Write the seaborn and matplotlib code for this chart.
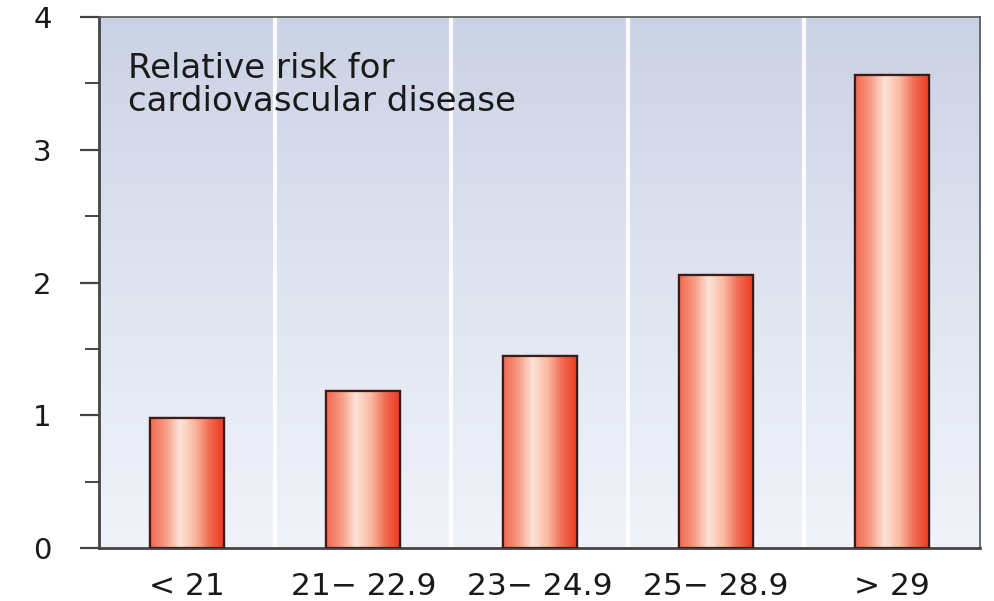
import numpy as np
import pandas as pd
import seaborn as sns
import matplotlib.pyplot as plt
from matplotlib.colors import LinearSegmentedColormap

bmi_groups = ["< 21", "21\u2212 22.9", "23\u2212 24.9", "25\u2212 28.9", "> 29"]
relative_risk = [0.98, 1.18, 1.45, 2.06, 3.56]
y_ticks = [0, 1, 2, 3, 4]

df = pd.DataFrame({"bmi": bmi_groups, "risk": relative_risk})

sns.set_style("white")
plt.rcParams["font.family"] = ["DejaVu Sans"]

fig = plt.figure(figsize=(9.95, 6.01), dpi=100)
ax = fig.add_axes([0.0995, 0.0882, 0.8855, 0.8835])

sns.barplot(data=df, x="bmi", y="risk", width=0.42, color="#ef5a3e",
            edgecolor="#3b1c1a", linewidth=1.6, ax=ax, zorder=3)

ax.set_xlim(-0.5, 4.5)
ax.set_ylim(0, 4)

# background: soft vertical gradient, white separators between groups
bg = LinearSegmentedColormap.from_list("bg", ["#f0f3f9", "#dfe4f0", "#cbd2e5"])
grad = np.linspace(0, 1, 256).reshape(-1, 1)
ax.imshow(grad, cmap=bg, aspect="auto", origin="lower",
          extent=(-0.5, 4.5, 0, 4), zorder=0)
for i in range(len(bmi_groups) - 1):
    ax.axvline(i + 0.5, color="white", lw=3, alpha=0.9, zorder=1)

# shiny bar fill
shine = LinearSegmentedColormap.from_list(
    "shine", ["#f26850", "#f79a82", "#fde3d8", "#f9b8a0", "#f2684e", "#eb3a22"])
hgrad = np.linspace(0, 1, 256).reshape(1, -1)
for p in ax.patches:
    x0, y0 = p.get_x(), p.get_y()
    w, h = p.get_width(), p.get_height()
    im = ax.imshow(hgrad, cmap=shine, aspect="auto",
                   extent=(x0, x0 + w, y0, y0 + h), zorder=3.5)
    im.set_clip_path(p)
    ax.add_patch(plt.Rectangle((x0, y0), w, h, fill=False,
                               edgecolor="#3b1c1a", lw=1.6, zorder=4))

ax.set_xlabel("")
ax.set_ylabel("")
ax.set_yticks(y_ticks)
ax.set_yticks([0.5, 1.5, 2.5, 3.5], minor=True)
ax.tick_params(axis="y", which="major", length=14, width=1.6, color="#444444",
               pad=20, labelsize=21, labelcolor="#1a1a1a", left=True)
ax.tick_params(axis="y", which="minor", length=10, width=1.4, color="#444444", left=True)
ax.tick_params(axis="x", length=0, pad=17, labelsize=22.5, labelcolor="#1a1a1a")

for s in ["left", "bottom"]:
    ax.spines[s].set_color("#444444")
    ax.spines[s].set_linewidth(2)
for s in ["top", "right"]:
    ax.spines[s].set_color("#555555")
    ax.spines[s].set_linewidth(1.2)

ax.text(0.033, 0.935, "Relative risk for\ncardiovascular disease",
        transform=ax.transAxes, fontsize=24.5, va="top", ha="left",
        color="#1a1a1a", linespacing=1.0, zorder=5)

fig.savefig("out.png", dpi=100)
